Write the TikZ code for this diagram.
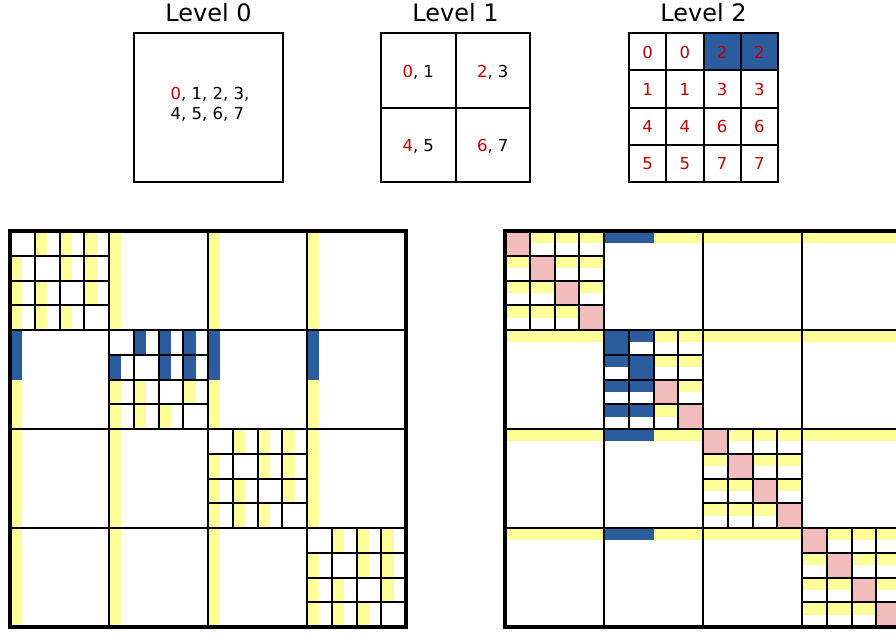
\documentclass[tikz,border=0pt]{standalone}
\usepackage{fontspec}
\setmainfont{DejaVu Sans}
\definecolor{cellyellow}{RGB}{255,255,153}
\definecolor{cellblue}{RGB}{43,92,158}
\definecolor{cellpink}{RGB}{242,188,188}
\definecolor{rankred}{RGB}{192,0,0}
\tikzstyle{title}=[font=\fontsize{24}{28}\selectfont, inner sep=0pt, anchor=base]
\tikzstyle{ranks}=[font=\fontsize{16.5}{20}\selectfont, inner sep=0pt]
\tikzstyle{rank}=[ranks, text height=11.8pt, text depth=0pt]
\tikzstyle{grid}=[black, line width=2pt]
\tikzstyle{frame}=[black, line width=4.5pt]
\newcommand{\rk}[1]{\textcolor{rankred}{#1}}

\begin{document}
\begin{tikzpicture}[x=1pt,y=-1pt]
				\clip (0,0) rectangle (896,635);
				% the three levels
				\node[title] (lvl0) at (208.5,21) {Level 0};
				\node[title] (lvl1) at (455.5,21) {Level 1};
				\node[title] (lvl2) at (703.5,21) {Level 2};
				\draw[grid] (134,33) rectangle (283,182);
				\node[ranks, align=left] (l0) at (210,104) {\rk{0}, 1, 2, 3,\\4, 5, 6, 7};
				\draw[grid] (381,33) rectangle (530,182);
				\draw[grid] (455.5,33) -- (455.5,182);
				\draw[grid] (381,107.5) -- (530,107.5);
				\node[rank] (l1a) at (418.25,71.25) {\rk{0}, 1};
				\node[rank] (l1b) at (492.75,71.25) {\rk{2}, 3};
				\node[rank] (l1c) at (418.25,145.75) {\rk{4}, 5};
				\node[rank] (l1d) at (492.75,145.75) {\rk{6}, 7};
				\fill[cellblue] (703.5,33) rectangle (778,70.25);
				\foreach \k in {1,2,3} {
					\draw[grid] (629+37.25*\k,33) -- ++(0,149);
					\draw[grid] (629,33+37.25*\k) -- ++(149,0);
				}
				\draw[grid] (629,33) rectangle (778,182);
				\foreach \ri/\a/\b in {0/0/2, 1/1/3, 2/4/6, 3/5/7} {
					\node[rank] (l2-\ri-0) at (647.6,52.2+37.25*\ri) {\rk{\a}};
					\node[rank] (l2-\ri-1) at (684.9,52.2+37.25*\ri) {\rk{\a}};
					\node[rank] (l2-\ri-2) at (722.1,52.2+37.25*\ri) {\rk{\b}};
					\node[rank] (l2-\ri-3) at (759.4,52.2+37.25*\ri) {\rk{\b}};
				}
				% left matrix: strips down the left side of each entry
				\begin{scope}[shift={(10,231)}]
					\foreach \I in {0,...,3} \foreach \J in {0,...,3} {
						\ifnum\I=\J\else
							\foreach \ri in {0,...,3} {
								\def\hue{cellyellow}
								\ifnum\I=1 \ifnum\ri<2 \def\hue{cellblue}\fi\fi
								\fill[\hue] (99*\J,99*\I+24.75*\ri) rectangle ++(12.375,24.75);
							}
						\fi
					}
					\foreach \I in {0,...,3} \foreach \ri in {0,...,3} \foreach \ci in {0,...,3} {
						\ifnum\ri=\ci\else
							\def\hue{cellyellow}
							\ifnum\I=1 \ifnum\ri<2 \def\hue{cellblue}\fi\fi
							\fill[\hue] (99*\I+24.75*\ci,99*\I+24.75*\ri) rectangle ++(12.375,24.75);
						\fi
					}
					\foreach \I in {0,...,3} \foreach \k in {1,2,3} {
						\draw[grid] (99*\I+24.75*\k,99*\I) -- ++(0,99);
						\draw[grid] (99*\I,99*\I+24.75*\k) -- ++(99,0);
					}
					\foreach \k in {1,2,3} {
						\draw[grid] (99*\k,0) -- (99*\k,396);
						\draw[grid] (0,99*\k) -- (396,99*\k);
					}
					\draw[frame] (0,0) rectangle (396,396);
				\end{scope}
				% right matrix: strips along the top of each entry
				\begin{scope}[shift={(505,231)}]
					\foreach \I in {0,...,3} \foreach \J in {0,...,3} {
						\ifnum\I=\J\else
							\foreach \ci in {0,...,3} {
								\def\hue{cellyellow}
								\ifnum\J=1 \ifnum\ci<2 \def\hue{cellblue}\fi\fi
								\fill[\hue] (99*\J+24.75*\ci,99*\I) rectangle ++(24.75,12.375);
							}
						\fi
					}
					\foreach \I in {0,...,3} \foreach \ri in {0,...,3} \foreach \ci in {0,...,3} {
						\def\hue{cellyellow}\def\dhue{cellpink}
						\ifnum\I=1 \ifnum\ci<2 \def\hue{cellblue}\def\dhue{cellblue}\fi\fi
						\ifnum\ri=\ci
							\fill[\dhue] (99*\I+24.75*\ci,99*\I+24.75*\ri) rectangle ++(24.75,24.75);
						\else
							\fill[\hue] (99*\I+24.75*\ci,99*\I+24.75*\ri) rectangle ++(24.75,12.375);
						\fi
					}
					\foreach \I in {0,...,3} \foreach \k in {1,2,3} {
						\draw[grid] (99*\I+24.75*\k,99*\I) -- ++(0,99);
						\draw[grid] (99*\I,99*\I+24.75*\k) -- ++(99,0);
					}
					\foreach \k in {1,2,3} {
						\draw[grid] (99*\k,0) -- (99*\k,396);
						\draw[grid] (0,99*\k) -- (396,99*\k);
					}
					\draw[frame] (0,0) rectangle (396,396);
				\end{scope}
\end{tikzpicture}
\end{document}
